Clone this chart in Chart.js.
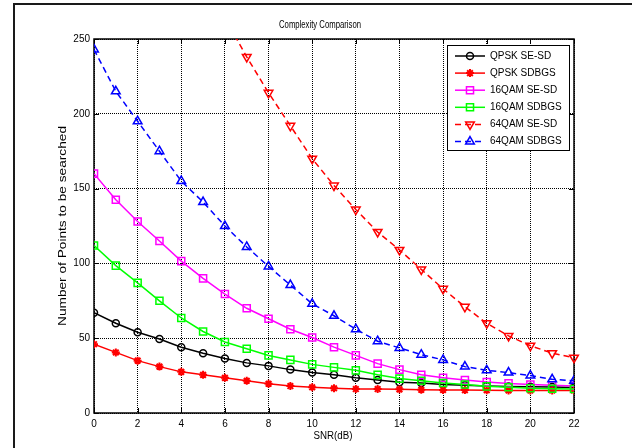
<!DOCTYPE html>
<html><head><meta charset="utf-8">
<script src="https://cdn.jsdelivr.net/npm/chart.js@4/dist/chart.umd.min.js"></script>
<style>html,body{margin:0;padding:0;background:#fff;overflow:hidden}canvas{display:block}</style>
</head><body>
<canvas id="c" width="632" height="448"></canvas>
<script>
// ---- data ----
const snr = [0,1,2,3,4,5,6,7,8,9,10,11,12,13,14,15,16,17,18,19,20,21,22];
const qpskSESD  = [67,60,54,49.5,44,40,36.5,33.5,31.5,29,27,25.5,23.5,22,20.5,20,19,18.5,18,17.7,17.5,17.3,17];
const qpskSDBGS = [46,40.5,35,31,27.5,25.5,23.5,21.5,19.5,18,17.2,16.5,16,16,15.8,15.5,15.4,15.3,15.2,15.1,15,15,15];
const qam16SESD = [160,142.5,128,115,101.5,90,79.5,70,63,56,50.5,44,38.5,33,29,25.5,23.5,22,20.7,19.8,19,18.5,18];
const qam16SDBGS= [112,98.5,87,75,63.5,54.5,47.5,43,38.5,35.5,32.5,30.5,28.5,25.5,23,21.5,20,19,17.8,17.2,16.5,16.2,16];
const qam64SESD = [null,null,null,null,null,null,264,238,214,192,170,152,136,121,109,96,83,71,60,51.5,45,40,37];
const qam64SDBGS= [243,215,195,175,155,141,125,111,98,85.5,73,65,56,48,43.5,39,35.5,31,28.5,27,25,22.5,21.5];
const seriesNames = ['QPSK SE-SD','QPSK SDBGS','16QAM SE-SD','16QAM SDBGS','64QAM SE-SD','64QAM SDBGS'];
const chartTitle = 'Complexity Comparison';
const xTitle = 'SNR(dB)';
const yTitle = 'Number of Points to be searched';

const pts = arr => snr.map((x,i)=>({x:x, y:arr[i]}));
const FONT = '"Liberation Sans", Arial, Helvetica, sans-serif';

function mk(i, arr, color, style, radius, extra){
  return Object.assign({
    label: seriesNames[i], data: pts(arr), borderColor: color, backgroundColor: color,
    borderWidth: 1.5, pointStyle: style, pointRadius: radius, pointBorderWidth: 1.5,
    pointBorderColor: color, pointBackgroundColor: 'rgba(0,0,0,0)', pointHoverRadius: radius,
    order: 5 - i, tension: 0, spanGaps: false
  }, extra || {});
}

const datasets = [
  mk(0, qpskSESD, '#000000', 'circle', 3.5),
  mk(1, qpskSDBGS, '#ff0000', 'star', 4, {pointBorderWidth: 2}),
  mk(2, qam16SESD, '#ff00ff', 'rect', 5),
  mk(3, qam16SDBGS, '#00ff00', 'rect', 5),
  mk(4, qam64SESD, '#ff0000', 'triangle', 5, {borderDash:[6,4], pointRotation:180, clip:{left:8,right:8,top:0,bottom:8}}),
  mk(5, qam64SDBGS, '#0000ff', 'triangle', 5, {borderDash:[6,4]})
];

function stretchedText(ctx, text, cx, cy, font, targetW, rot){
  ctx.save();
  ctx.translate(cx, cy);
  if (rot) ctx.rotate(rot);
  ctx.font = font;
  const w = ctx.measureText(text).width;
  ctx.scale(targetW / w, 1);
  ctx.textAlign = 'center'; ctx.textBaseline = 'middle'; ctx.fillStyle = '#000';
  ctx.fillText(text, 0, 0);
  ctx.restore();
}

function fallbackMarker(ctx, o, x, y){
  const r = o.radius;
  ctx.beginPath();
  if (o.pointStyle === 'circle') ctx.arc(x, y, r, 0, Math.PI*2);
  else if (o.pointStyle === 'rect') { const s = r/Math.SQRT2; ctx.rect(x-s, y-s, 2*s, 2*s); }
  else if (o.pointStyle === 'triangle') {
    let a = (o.rotation||0)*Math.PI/180;
    for (let k=0;k<3;k++){ const px=x+Math.sin(a)*r, py=y-Math.cos(a)*r; k?ctx.lineTo(px,py):ctx.moveTo(px,py); a+=2*Math.PI/3; }
    ctx.closePath();
  } else {
    for (let k=0;k<4;k++){ const a=k*Math.PI/4; ctx.moveTo(x+Math.cos(a)*r,y+Math.sin(a)*r); ctx.lineTo(x-Math.cos(a)*r,y-Math.sin(a)*r); }
  }
  ctx.stroke();
}

const decor = {
  id: 'decor',
  beforeDraw(chart){
    const ctx = chart.ctx;
    ctx.save();
    ctx.fillStyle = '#fff'; ctx.fillRect(0,0,chart.width,chart.height);
    ctx.fillStyle = '#1a1a1a';
    ctx.fillRect(13, 3, chart.width-13, 2);
    ctx.fillRect(13, 3, 2, chart.height-3);
    ctx.restore();
  },
  beforeDatasetsDraw(chart){
    const ctx = chart.ctx, a = chart.chartArea, xs = chart.scales.x, ys = chart.scales.y;
    ctx.save();
    ctx.strokeStyle = '#000'; ctx.lineWidth = 1; ctx.setLineDash([]);
    ctx.beginPath();
    xs.ticks.forEach(t => {
      const px = Math.round(xs.getPixelForValue(t.value)) + 0.5;
      ctx.moveTo(px, a.bottom); ctx.lineTo(px, a.bottom - 5);
      ctx.moveTo(px, a.top); ctx.lineTo(px, a.top + 5);
    });
    ys.ticks.forEach(t => {
      const py = Math.round(ys.getPixelForValue(t.value)) + 0.5;
      ctx.moveTo(a.left, py); ctx.lineTo(a.left + 5, py);
      ctx.moveTo(a.right, py); ctx.lineTo(a.right - 5, py);
    });
    ctx.stroke();
    ctx.lineWidth = 1.5;
    ctx.strokeRect(Math.round(a.left), Math.round(a.top), Math.round(a.right - a.left), Math.round(a.bottom - a.top));
    ctx.restore();
  },
  afterDraw(chart){
    const ctx = chart.ctx, a = chart.chartArea;
    stretchedText(ctx, chartTitle, 320, 25, '10px ' + FONT, 82, 0);
    stretchedText(ctx, yTitle, 63, (a.top + a.bottom)/2, '10px ' + FONT, 200, -Math.PI/2);
    stretchedText(ctx, xTitle, 333, 436, '10px ' + FONT, 39, 0);

    // legend
    ctx.save();
    ctx.fillStyle = '#fff';
    ctx.fillRect(447, 45, 122, 105);
    ctx.strokeStyle = '#000'; ctx.lineWidth = 1; ctx.setLineDash([]);
    ctx.strokeRect(447.5, 45.5, 122, 105);
    chart.data.datasets.forEach((ds, i) => {
      const y = 56 + i * 17.1;
      ctx.save();
      ctx.strokeStyle = ds.borderColor; ctx.lineWidth = ds.borderWidth;
      ctx.setLineDash(ds.borderDash || []);
      ctx.beginPath(); ctx.moveTo(455, y); ctx.lineTo(485, y); ctx.stroke();
      ctx.setLineDash([]);
      const o = {pointStyle: ds.pointStyle, rotation: ds.pointRotation || 0, radius: ds.pointRadius, borderWidth: ds.pointBorderWidth};
      ctx.lineWidth = ds.pointBorderWidth; ctx.strokeStyle = ds.pointBorderColor; ctx.fillStyle = 'rgba(0,0,0,0)';
      if (Chart.helpers && Chart.helpers.drawPoint) Chart.helpers.drawPoint(ctx, o, 470, y);
      else fallbackMarker(ctx, o, 470, y);
      ctx.restore();
      ctx.fillStyle = '#000'; ctx.font = '10px ' + FONT; ctx.textBaseline = 'middle'; ctx.textAlign = 'left';
      ctx.fillText(ds.label, 490, y);
    });
    ctx.restore();
  }
};

const tickFont = {size: 10, family: FONT};
new Chart(document.getElementById('c').getContext('2d'), {
  type: 'line',
  data: {datasets: datasets},
  options: {
    responsive: false, animation: false, devicePixelRatio: 1,
    layout: {padding: {top: 39, right: 58, left: 0, bottom: 0}},
    plugins: {legend: {display: false}, title: {display: false}, tooltip: {enabled: false}},
    scales: {
      x: {type: 'linear', min: 0, max: 22,
          ticks: {stepSize: 2, padding: 5, color: '#000', font: tickFont, maxRotation: 0, autoSkip: false},
          grid: {color: '#000', lineWidth: 1, drawTicks: false},
          border: {display: false, dash: [1, 1]},
          afterFit(s){ s.height = 35; }},
      y: {type: 'linear', min: 0, max: 250,
          ticks: {stepSize: 50, padding: 4, color: '#000', font: tickFont},
          grid: {color: '#000', lineWidth: 1, drawTicks: false},
          border: {display: false, dash: [1, 1]},
          afterFit(s){ s.width = 94; }}
    }
  },
  plugins: [decor]
});
</script>
</body></html>
